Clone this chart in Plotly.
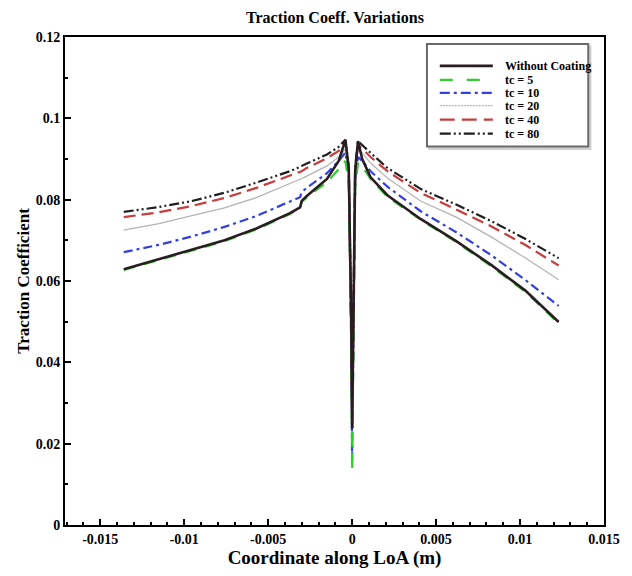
import plotly.graph_objects as go

# x coordinates along LoA (m): left branch, central dip, right branch
x_coord = [-0.0136, -0.0115, -0.0096, -0.0076, -0.0057, -0.0037, -0.0031, -0.0030, -0.0027, -0.0015, -0.0008, -0.0004,
           -0.0002, -0.00005, 0.0, 0.0001, 0.00018,
           0.00035, 0.0006, 0.0011, 0.0021, 0.0041, 0.0062, 0.0083, 0.0103, 0.0123]

without_coating = [0.0629, 0.0654, 0.0675, 0.0700, 0.0729, 0.0767, 0.0781, 0.0797, 0.0809, 0.0851, 0.0895, 0.0947,
                   0.0875, 0.0495, 0.0237, 0.0593, 0.0870,
                   0.0944, 0.0900, 0.0855, 0.0811, 0.0752, 0.0698, 0.0639, 0.0577, 0.0499]
tc5 = [0.0627, 0.0652, 0.0674, 0.0698, 0.0727, 0.0765, 0.0779, 0.0795, 0.0806, 0.0843, 0.0875, 0.0895,
       0.0841, 0.0445, 0.0133, 0.0544, 0.0831,
       0.0890, 0.0882, 0.0851, 0.0807, 0.0750, 0.0696, 0.0636, 0.0574, 0.0496]
tc10 = [0.0671, 0.0689, 0.0709, 0.0733, 0.0760, 0.0794, 0.0806, 0.0819, 0.0829, 0.0865, 0.0895, 0.0916,
        0.0860, 0.0465, 0.0156, 0.0554, 0.0851,
        0.0905, 0.0895, 0.0870, 0.0832, 0.0771, 0.0720, 0.0663, 0.0603, 0.0539]
tc20 = [0.0725, 0.0741, 0.0760, 0.0780, 0.0805, 0.0839, 0.0849, 0.0852, 0.0858, 0.0883, 0.0905, 0.0925,
        0.0870, 0.0495, 0.0257, 0.0574, 0.0860,
        0.0925, 0.0915, 0.0890, 0.0853, 0.0796, 0.0757, 0.0708, 0.0657, 0.0603]
tc40 = [0.0757, 0.0769, 0.0784, 0.0804, 0.0829, 0.0858, 0.0868, 0.0870, 0.0878, 0.0902, 0.0920, 0.0938,
        0.0880, 0.0495, 0.0267, 0.0584, 0.0870,
        0.0935, 0.0925, 0.0905, 0.0870, 0.0816, 0.0776, 0.0734, 0.0689, 0.0638]
tc80 = [0.0770, 0.0782, 0.0796, 0.0817, 0.0842, 0.0870, 0.0881, 0.0883, 0.0889, 0.0911, 0.0930, 0.0947,
        0.0880, 0.0495, 0.0277, 0.0593, 0.0880,
        0.0944, 0.0935, 0.0915, 0.0878, 0.0826, 0.0788, 0.0747, 0.0704, 0.0656]

series_names = ["Without Coating", "tc = 5", "tc = 10", "tc = 20", "tc = 40", "tc = 80"]
x_tickvals = [-0.015, -0.01, -0.005, 0, 0.005, 0.01, 0.015]
x_ticktext = ["-0.015", "-0.01", "-0.005", "0", "0.005", "0.01", "0.015"]
y_tickvals = [0, 0.02, 0.04, 0.06, 0.08, 0.1, 0.12]
y_ticktext = ["0", "0.02", "0.04", "0.06", "0.08", "0.1", "0.12"]

FONT = "Liberation Serif"

styles = {
    "Without Coating": dict(color="#2a1d22", width=2.6, dash="solid"),
    "tc = 5": dict(color="#33cc33", width=2.2, dash="12px,9px"),
    "tc = 10": dict(color="#3340dd", width=2.2, dash="9px,4px,3px,4px"),
    "tc = 20": dict(color="#b4b4b4", width=1.3, dash="solid"),
    "tc = 40": dict(color="#c83c3c", width=2.2, dash="12px,6px"),
    "tc = 80": dict(color="#1f1f1f", width=2.2, dash="10px,3px,2px,3px,2px,3px"),
}
legend_styles = {
    "Without Coating": dict(color="#2a1d22", width=2.6, dash="solid"),
    "tc = 5": dict(color="#33cc33", width=2.2, dash="13px,14px"),
    "tc = 10": dict(color="#3340dd", width=2.2, dash="10px,4px,3px,4px"),
    "tc = 20": dict(color="#b4b4b4", width=1.2, dash="2px,1px"),
    "tc = 40": dict(color="#c83c3c", width=2.2, dash="15px,7px"),
    "tc = 80": dict(color="#1f1f1f", width=2.2, dash="11px,3px,2px,3px,2px,3px"),
}
data_map = {
    "Without Coating": without_coating, "tc = 5": tc5, "tc = 10": tc10,
    "tc = 20": tc20, "tc = 40": tc40, "tc = 80": tc80,
}

fig = go.Figure()
draw_order = ["tc = 80", "tc = 40", "tc = 20", "tc = 10", "tc = 5", "Without Coating"]
for name in draw_order:
    fig.add_trace(go.Scatter(
        x=x_coord, y=data_map[name], mode="lines", name=name,
        line=styles[name], showlegend=False,
    ))

# Legend drawn as a framed box (paper coordinates)
box_x0, box_x1, box_y0, box_y1 = 0.6715, 0.9708, 0.7755, 0.9857
fig.add_shape(type="rect", xref="paper", yref="paper",
              x0=box_x0 + 0.004, x1=box_x1 + 0.004, y0=box_y0 - 0.005, y1=box_y1 - 0.005,
              line=dict(color="#d0d0d0", width=2), fillcolor="#d0d0d0", layer="above")
fig.add_shape(type="rect", xref="paper", yref="paper",
              x0=box_x0, x1=box_x1, y0=box_y0, y1=box_y1,
              line=dict(color="#6a6a6a", width=2), fillcolor="white", layer="above")
row_y = [0.9408, 0.9122, 0.8857, 0.8592, 0.8306, 0.8020]
for name, ry in zip(series_names, row_y):
    fig.add_shape(type="line", xref="paper", yref="paper",
                  x0=0.6953, x1=0.7938, y0=ry, y1=ry,
                  line=legend_styles[name], layer="above")
    fig.add_annotation(xref="paper", yref="paper", x=0.8130, y=ry,
                       xanchor="left", yanchor="middle", showarrow=False,
                       text="<b>" + name + "</b>",
                       font=dict(family=FONT, size=12, color="black"))

axis_common = dict(
    showgrid=False, zeroline=False, showline=True, linecolor="black", linewidth=2,
    mirror=True, ticks="inside", ticklen=6, tickwidth=1.5, tickcolor="black",
    tickfont=dict(family=FONT, size=14, color="black", weight="bold"),
)

fig.update_layout(
    width=632, height=576,
    margin=dict(l=65, r=19, t=37, b=49),
    paper_bgcolor="white", plot_bgcolor="white",
    title=dict(text="<b>Traction Coeff. Variations</b>", x=0.53, xanchor="center",
               y=0.97, yanchor="middle",
               font=dict(family=FONT, size=16, color="black")),
    xaxis=dict(range=[-0.0171, 0.0150], tickvals=x_tickvals, ticktext=x_ticktext,
               minor=dict(ticks="inside", ticklen=3, dtick=0.001, tick0=0, tickcolor="black"),
               title=dict(text="<b>Coordinate along LoA (m)</b>", standoff=4,
                          font=dict(family=FONT, size=19, color="black")),
               **axis_common),
    yaxis=dict(range=[0, 0.12], tickvals=y_tickvals, ticktext=y_ticktext,
               minor=dict(ticks="inside", ticklen=3, dtick=0.01, tick0=0, tickcolor="black"),
               title=dict(text="<b>Traction Coefficient</b>", standoff=2,
                          font=dict(family=FONT, size=17, color="black")),
               **axis_common),
    showlegend=False,
)

fig.write_html("out.html")
